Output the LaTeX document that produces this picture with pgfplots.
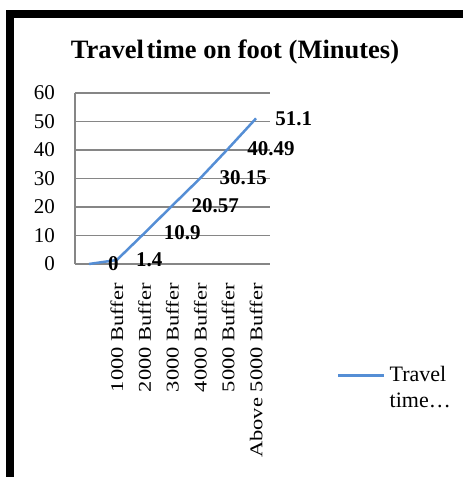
\documentclass[border=0pt]{standalone}
\usepackage{fontspec}
\setmainfont{Liberation Serif}
\usepackage{graphicx}
\usepackage{pgfplots}
\pgfplotsset{compat=1.18}
\definecolor{serblue}{RGB}{85,142,213}
\definecolor{gridgray}{RGB}{134,134,134}
\newcommand{\xl}[1]{\scalebox{1}[0.8]{#1}}
\begin{document}
\begin{tikzpicture}
\useasboundingbox (0pt,0pt) rectangle (463pt,477pt);
\fill[black] (6pt,459pt) rectangle (463pt,467pt);
\fill[black] (6pt,0pt) rectangle (14pt,467pt);
\node[anchor=base, inner sep=0pt, font=\fontsize{26.5}{26.5}\selectfont\bfseries] at (235pt,418pt) {Travel\hspace{-0.15em} time on foot (Minutes)};
\begin{axis}[
  at={(75pt,213pt)}, anchor=south west,
  scale only axis, width=195pt, height=171pt,
  xmin=-0.5, xmax=6.5, ymin=0, ymax=60,
  clip=false,
  axis lines*=left,
  axis line style={-, draw=gridgray, line width=1.3pt},
  ymajorgrids, grid style={draw=gridgray, line width=1.3pt},
  ytick={0,10,...,60},
  xtick={1,2,3,4,5,6},
  xticklabels={\xl{1000 Buffer},\xl{2000 Buffer},\xl{3000 Buffer},\xl{4000 Buffer},\xl{5000 Buffer},\xl{Above 5000 Buffer}},
  major tick length=0pt,
  /pgf/number format/assume math mode=true,
  yticklabel style={font=\fontsize{21}{21}\selectfont, anchor=east, inner xsep=0pt, inner ysep=0pt, xshift=-20pt},
  xticklabel style={font=\fontsize{22.5}{22.5}\selectfont, rotate=90, anchor=east, inner xsep=0pt, inner ysep=0pt, xshift=-19pt},
  point meta=explicit symbolic,
  nodes near coords,
  nodes near coords style={text=black, font=\fontsize{21}{21}\selectfont\bfseries, anchor=west, inner sep=0pt, xshift=18pt, yshift=0pt},
  legend style={at={(262pt,-100pt)}, anchor=north west, draw=none, fill=none, inner sep=0pt,
    font=\fontsize{22}{26}\selectfont, cells={align=left}, column sep=2pt},
  legend image code/.code={\draw[#1, line width=2.5pt] (0pt,12pt) -- (46pt,12pt);},
]
\addplot[serblue, line width=2.5pt, mark=none] coordinates {
  (0,0) [0]
  (1,1.4) [1.4]
  (2,10.9) [10.9]
  (3,20.57) [20.57]
  (4,30.15) [30.15]
  (5,40.49) [40.49]
  (6,51.1) [51.1]
};
\addlegendentry{Travel\\time…}
\end{axis}
\end{tikzpicture}
\end{document}
